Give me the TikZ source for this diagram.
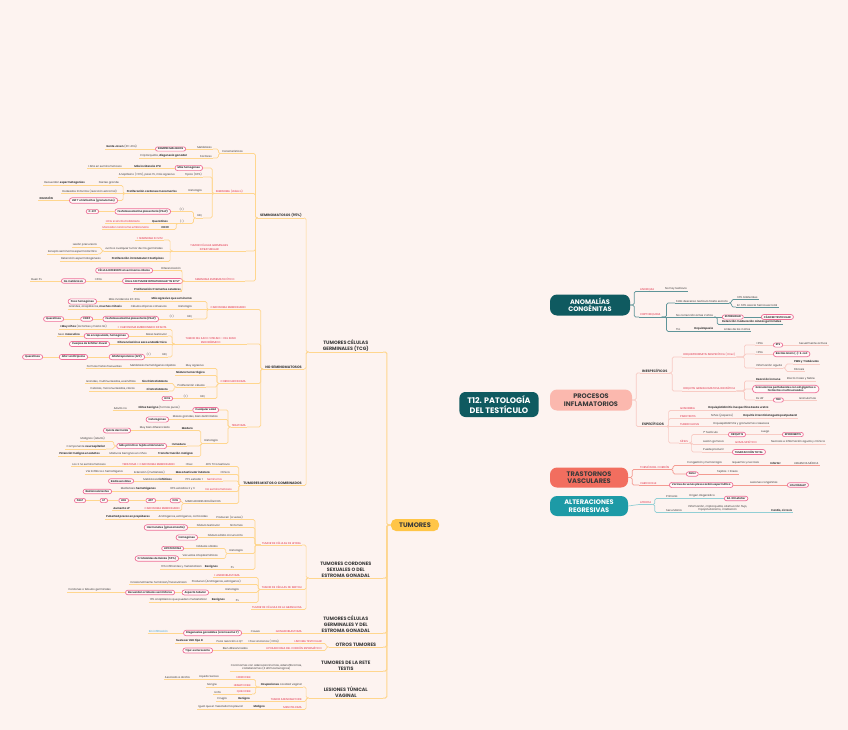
\documentclass[tikz,border=0pt]{standalone}
\usepackage{fontspec}
\setmainfont{Poppins}
\usetikzlibrary{shapes.misc,calc}
\pgfdeclarelayer{back}
\pgfsetlayers{back,main}
\definecolor{bg}{HTML}{FDF3F0}
\definecolor{txt}{HTML}{3A3A3A}
\definecolor{redc}{HTML}{E02B45}
\definecolor{pinkb}{HTML}{EE6F97}
\definecolor{pillf}{HTML}{FFF9F9}
\definecolor{ylw}{HTML}{FFD68E}
\definecolor{tumc}{HTML}{FFC547}
\definecolor{tealdk}{HTML}{0F5A60}
\definecolor{teall}{HTML}{5F9599}
\definecolor{procc}{HTML}{FBB8AE}
\definecolor{procl}{HTML}{F8CBC4}
\definecolor{trasc}{HTML}{F26E5F}
\definecolor{trasl}{HTML}{F49B91}
\definecolor{altc}{HTML}{1D9AA6}
\definecolor{altl}{HTML}{92CFD5}
\definecolor{bluet}{HTML}{3CA4D8}
\colorlet{lc}{ylw}
\tikzset{
 tx/.style={font=\fontsize{2.7}{3.2}\selectfont, text=txt, inner xsep=1pt, inner ysep=0.7pt},
 rd/.style={text=redc},
 bd/.style={font=\fontsize{2.7}{3.2}\selectfont\bfseries},
 ml/.style={align=center},
 pill/.style={rounded rectangle, draw=pinkb, line width=0.7pt, fill=pillf, text=txt, font=\fontsize{2.6}{3.1}\selectfont\bfseries, inner xsep=2.2pt, inner ysep=1.2pt},
 ul/.style={draw=lc, line width=0.7pt},
 ln/.style={draw=lc, line width=0.7pt, rounded corners=1.5pt},
 l2/.style={font=\fontsize{4.8}{5.6}\selectfont\bfseries, align=center, minimum width=74pt, inner xsep=0pt},
 l3/.style={font=\fontsize{3.4}{4}\selectfont\bfseries, inner xsep=2pt},
 bbox/.style={minimum width=80pt, minimum height=21pt, rounded corners=7pt, font=\fontsize{6.6}{7.6}\selectfont\bfseries, align=center, inner sep=0pt},
}
\newcommand\TL[4][]{\node[tx,anchor=south east,#1] (#2) at (#3) {#4};
  \draw[ul] (#2.south west) -- (#2.south east);
  \coordinate (#2-l) at (#2.south west); \coordinate (#2-r) at (#2.south east);}
\newcommand\TR[4][]{\node[tx,anchor=south west,#1] (#2) at (#3) {#4};
  \draw[ul] (#2.south west) -- (#2.south east);
  \coordinate (#2-l) at (#2.south west); \coordinate (#2-r) at (#2.south east);}
\newcommand\PL[4][]{\node[pill,anchor=east,#1] (#2) at (#3) {#4};
  \coordinate (#2-l) at (#2.west); \coordinate (#2-r) at (#2.east);}
\newcommand\PR[4][]{\node[pill,anchor=west,#1] (#2) at (#3) {#4};
  \coordinate (#2-l) at (#2.west); \coordinate (#2-r) at (#2.east);}
\newcommand\CL[3][2.5]{\draw[ln] (#2-l) -- ++(-#1,0) |- (#3-r);}
\newcommand\SL[2]{\draw[ln] (#1-l) -- (#2-r);}
\newcommand\CR[3][2.5]{\draw[ln] (#2-r) -- ++(#1,0) |- (#3-l);}
\newcommand\SR[2]{\draw[ln] (#1-r) -- (#2-l);}
\begin{document}
\begin{tikzpicture}[x=1pt,y=-1pt]
\fill[bg] (0,0) rectangle (848,730);
\useasboundingbox (0,0) rectangle (848,730);

% ---------- central and main branches
\node[fill=tealdk,text=white,rounded corners=6pt,font=\fontsize{8}{9.4}\selectfont\bfseries,align=center,minimum height=25pt,inner xsep=8pt] (cen) at (499,404.5) {T12. PATOLOGÍA\\DEL TESTÍCULO};
\node[bbox,fill=tealdk,text=white] (anom) at (590,305) {ANOMALÍAS\\CONGÉNITAS};
\node[bbox,fill=procc,text=txt,minimum width=82pt] (proc) at (591,400) {PROCESOS\\INFLAMATORIOS};
\node[bbox,fill=trasc,text=txt,minimum width=78pt,minimum height=20pt] (tras) at (589,477.5) {TRASTORNOS\\VASCULARES};
\node[bbox,fill=altc,text=white,minimum width=78pt,minimum height=20pt] (alt) at (589,506) {ALTERACIONES\\REGRESIVAS};
\node[fill=tumc,text=txt,rounded corners=5pt,font=\fontsize{6.6}{7.6}\selectfont\bfseries,minimum width=48pt,minimum height=12pt,inner sep=0pt] (tum) at (415,525) {TUMORES};
\begin{pgfonlayer}{back}
\draw[tumc,line width=1.1pt] (tum.east) .. controls +(22,0) and +(0,50) .. ($(cen.south west)+(8,0)$);
\draw[tealdk,line width=1.1pt] (cen.center) .. controls (536,404) and (536,305) .. (anom.west);
\draw[procc,line width=1.1pt] (cen.center) -- (proc.west);
\draw[trasc,line width=1.1pt] (cen.center) .. controls (536,404) and (536,477.5) .. (tras.west);
\draw[altc,line width=1.1pt] (cen.center) .. controls (536,404) and (536,506) .. (alt.west);
\end{pgfonlayer}

% ---------- TUMORES
\colorlet{lc}{ylw}
\TL[l2]{tcg}{383,352}{TUMORES CÉLULAS\\GERMINALES (TCG)}
\TL[l2]{cord}{383,578}{TUMORES CORDONES\\SEXUALES O DEL\\ESTROMA GONADAL}
\TL[l2]{cgest}{383,633}{TUMORES CÉLULAS\\GERMINALES  Y DEL\\ESTROMA GONADAL}
\TL[l2,minimum width=54pt]{otros}{383,647}{OTROS TUMORES}
\TL[l2]{rete}{383,671}{TUMORES DE LA RETE\\TESTIS}
\TL[l2]{lesion}{383,698}{LESIONES TÚNICAL\\VAGINAL}
\foreach \c in {tcg,cord,cgest,otros,rete,lesion}{\draw[ln,line width=1pt] (tum.west) -- ++(-4,0) |- (\c-r);}

\TL[l3]{semi}{304,218}{SEMINOMATOSOS (95\%)}
\TL[l3]{nosemi}{304,369}{NO SEMINOMATOSOS}
\TL[l3]{mixtos}{304,485.5}{TUMORES MIXTOS O COMBINADOS}
\CL{tcg}{semi}\CL{tcg}{nosemi}\CL{tcg}{mixtos}

% seminomatosos
\TL{car}{244,153.5}{Características}
\TL{met}{213,149}{Metástasis}
\PL{siem}{186,149}{SIEMPRE MALIGNOS}
\TL{gente}{138,149}{\textbf{Gente Joven} (30-40a)}
\TL{fac}{213,158}{Factores}
\TL{crip}{188,158}{Criptorquidia, \textbf{disgenesia gonadal}}
\CL{semi}{car}\CL{car}{met}\SL{met}{siem}\SL{siem}{gente}\CL{car}{fac}\SL{fac}{crip}

\TL[rd]{semc}{244,193.5}{SEMINOMA (clásico)}
\PL{mh}{203,168}{Más homogéneo}
\TL[bd]{mi}{162,168}{Más incidencia 4ªd}
\TL{alta}{123,168}{+Alta en seminomatosos}
\TL{tip}{203,177}{Típico (90\%)}
\TL{ana}{176,177}{Anaplásico (<10\%), pasa 1\%, más agresivo}
\TL{h1}{203,193.5}{Histología}
\TL[bd]{pcm}{178,193.5}{Proliferación cordones monomorfos}
\TL{ng}{120,185.5}{Núcleo grande}
\TL{rec}{86,185.5}{Recuerdan \textbf{espermatogonias}}
\TL{rod}{118,193.5}{Rodeados linfocitos (reacción estromal)}
\PL{lnf}{118,200.5}{LNF T e histiocitos (granulomas)}
\TL[bd]{dels}{54,200.5}{DELUSIÓN}
\TL{ihqa}{203,218}{IHQ}
\TL{pa}{185,211.5}{(+)}
\PL{palpa}{171,211.5}{Fosfatasa alcalina placentaria (PALP)}
\PL{ckit}{99,211.5}{C-KIT}
\TL{na}{185,223.5}{(-)}
\TL[bd]{kera}{169,223.5}{Queratinas}
\TL[rd]{bhcg}{141,223.5}{HCG si sincitiotrofoblasto}
\TL[bd]{cda}{170,229.5}{CD30}
\TL[rd]{mce}{150,229.5}{Marcador carcinoma embrionario}
\CL{semi}{semc}\CL{semc}{mh}\SL{mh}{mi}\SL{mi}{alta}\CL{semc}{tip}\SL{tip}{ana}
\SL{semc}{h1}\SL{h1}{pcm}\CL{pcm}{ng}\SL{ng}{rec}\SL{pcm}{rod}\CL{pcm}{lnf}\SL{lnf}{dels}
\CL{semc}{ihqa}\CL{ihqa}{pa}\SL{pa}{palpa}\SL{palpa}{ckit}\CL{ihqa}{na}\SL{na}{kera}\SL{kera}{bhcg}\CL{na}{cda}\SL{cda}{mce}

\TL[rd,ml,minimum width=73pt]{itub}{246,251}{TUMOR CÉLULAS GERMINALES\\INTRATUBULAR}
\TL[rd]{insitu}{164,240}{+ SEMINOMA IN SITU}
\TL{junto}{164,251}{Junto a cualquier tumor de CG germinales}
\TL{lesp}{98,247.5}{Lesión precursora}
\TL{exc}{98,254}{Excepto seminoma espermatocítico}
\TL[bd]{pia}{165,261.5}{Proliferación intratubular CG atípicas}
\TL{dete}{102,261.5}{Detención espermatogénesis}
\CL{semi}{itub}\CL{itub}{insitu}\SL{itub}{junto}\CL{junto}{lesp}\CL{junto}{exc}\CL{itub}{pia}\SL{pia}{dete}

\TL[rd,minimum width=60pt]{espc}{245,281}{SEMINOMA ESPERMATOCÍTICO}
\TL{difc}{182,270.5}{Diferenciación}
\PL{celd}{153,270.5}{CÉLULA DIFERENTE al seminoma clásico}
\PL{unico}{183,281}{Único SIN TUMOR INTRATUBULAR “IN SITU”}
\TL{edad}{103,281}{+60a}
\PL{nomet}{86,281}{No metástasis}
\TL{buen}{43,281}{Buen Px}
\TL[bd]{p3t}{182,291}{Proliferación 3 tamaños celulares}
\CL{semi}{espc}\CL{espc}{difc}\SL{difc}{celd}\SL{espc}{unico}\SL{unico}{edad}\SL{edad}{nomet}\SL{nomet}{buen}\CL{espc}{p3t}

% no seminomatosos
\TL[rd]{ce}{247,309.5}{CARCINOMA EMBRIONARIO}
\TL[bd]{agr}{193,301.5}{Más agresivo que seminoma}
\TL{mi2}{141,301.5}{Más incidencia 20-30a}
\PL{pocoh}{97,301.5}{Poco homogéneo}
\TL{h2}{193,309.5}{Histología}
\TL{cac}{168,309.5}{Células atípicas cohesivas}
\TL{gam}{123,309.5}{Grandes, anaplásicas, \textbf{muchas mitosis}}
\TL{ihqb}{193,319}{IHQ}
\TL{pb}{175,319}{(+)}
\PL{palpb}{159,319}{Fosfatasa alcalina placentaria (PALP)}
\PL{cdb}{93,319}{CD30}
\PL{kerb}{64,319}{Queratinas}
\CL{nosemi}{ce}\CL{ce}{agr}\SL{agr}{mi2}\SL{mi2}{pocoh}\SL{ce}{h2}\SL{h2}{cac}\SL{cac}{gam}
\CL{ce}{ihqb}\SL{ihqb}{pb}\SL{pb}{palpb}\SL{palpb}{cdb}\SL{cdb}{kerb}

\TL[rd,ml,minimum width=72pt]{sv}{247,344}{TUMOR DEL SACO VITELINO – DEL SENO\\ENDODÉRMICO}
\TL[rd]{infc}{168,329.5}{+ CARCINOMA EMBRIONARIO INFANTIL}
\TL{mny}{108,329.5}{\textbf{+Muy niños} (lactantes y hasta 3a)}
\TL{masa}{168,336}{Masa testicular}
\PL{noenc}{129,336}{No encapsulado, homogéneo}
\TL{sexo}{81,336}{Sexo \textbf{masculino}}
\TL[bd]{difs}{168,344}{Diferenciación a saco endodérmico}
\PL{schi}{110,344}{Cuerpos de Schiller-Duval}
\TL{ihqc}{168,357}{IHQ}
\TL{pc}{152,357}{(+)}
\PL{afp}{145,357}{Alfafetoproteína (AFP)}
\PL{a1a}{88,357}{Alfa 1 antitripsina}
\PL{kerc}{43,357}{Queratinas}
\CL{nosemi}{sv}\CL{sv}{infc}\SL{infc}{mny}\CL{sv}{masa}\SL{masa}{noenc}\SL{noenc}{sexo}
\SL{sv}{difs}\SL{difs}{schi}\CL{sv}{ihqc}\SL{ihqc}{pc}\SL{pc}{afp}\SL{afp}{a1a}\SL{a1a}{kerc}

\TL[rd]{corio}{247,383.5}{CORIOCARCINOMA}
\TL{magr}{205,368.5}{Muy agresivo}
\TL{mhr}{177,368.5}{Metástasis hematógenas rápidas}
\TL{fmf}{123,368.5}{Formas mixtas frecuentes}
\TL[bd]{nodh}{206,375.5}{Nódulo hemorrágico}
\TL{prc}{206,387}{Proliferación células}
\TL[bd]{sinc}{169,383.5}{Sincitiotrofoblasto}
\TL{gme}{137,383.5}{Grandes, multinucleadas, eosinófilas}
\TL[bd]{cito}{169,391}{Citotrofoblasto}
\TL{cmc}{136,391}{Cúbicas, mononucleadas, claras}
\TL{ihqd}{206,398.5}{IHQ}
\TL{pd}{189,398.5}{(+)}
\PL{hcga}{173,398.5}{HCG}
\CL{nosemi}{corio}\CL{corio}{magr}\SL{magr}{mhr}\SL{mhr}{fmf}\CL{corio}{nodh}\CL{corio}{prc}
\CL{prc}{sinc}\SL{sinc}{gme}\CL{prc}{cito}\SL{cito}{cmc}\CL{corio}{ihqd}\SL{ihqd}{pd}\SL{pd}{hcga}

\TL[rd]{ter}{247,427}{TERATOMA}
\PL{cualq}{219,410}{Cualquier edad}
\TL{nben}{181,410}{\textbf{Niños benigno} (formas puras)}
\TL{adno}{128,410}{Adulto no}
\TL{masg}{219,419.5}{Masas grandes, bien delimitadas}
\PL{heter}{169,419.5}{Heterogéneo}
\TL{h3}{219,443.5}{Histología}
\TL[bd]{mad}{194,430.5}{Maduro}
\TL{mbd}{171,430.5}{Muy bien diferenciado}
\PL{qder}{131,430.5}{Quiste dermoide}
\TL[bd]{inm}{187,446}{Inmaduro}
\PL{mpri}{167,446}{Más primitivo: tejido embrionario}
\TL{malad}{106,441.5}{Malignos (adulto)}
\TL{compn}{106,449}{Componente \textbf{neuroepitelial}}
\TL[bd]{trm}{194,456.5}{Transformación maligna}
\TL{mbn}{148,456.5}{Maduros benignos en niños}
\TL[bd]{pma}{101,456.5}{Potencial maligno en adultos}
\CL{nosemi}{ter}\CL{ter}{cualq}\SL{cualq}{nben}\SL{nben}{adno}\CL{ter}{masg}\SL{masg}{heter}
\CL{ter}{h3}\CL{h3}{mad}\SL{mad}{mbd}\SL{mbd}{qder}\CL{h3}{inm}\SL{inm}{mpri}\CL{mpri}{malad}\CL{mpri}{compn}
\CL{h3}{trm}\SL{trm}{mbn}\SL{mbn}{pma}

% mixtos
\TL{f40}{231,466.5}{40\% TCG testículo}
\TL{frec}{194,466.5}{+Frec}
\TL[rd]{tce}{176,466.5}{TERATOMA + CARCINOMA EMBRIONARIO}
\TL{los2}{107,466.5}{Los 2 no seminomatosos}
\TL{clin}{231,474.5}{Clínica}
\TL[bd]{mti}{211,474.5}{Masa testicular indolora}
\TL{extm}{166,474.5}{Extensión (metástasis)}
\TL{vlh}{124,474.5}{Vía linfática o hematógena}
\TL[rd]{sem2}{223,481}{Seminoma}
\TL{e70}{204,481}{70\% estadio 1}
\TL{mlin}{173,481}{Metástasis \textbf{linfáticas}}
\PL{rsen}{134,481}{Radiosensibles}
\TL[rd]{nsem2}{233,491.5}{No seminomatosos}
\TL{e60}{196,491.5}{60\% estadios 2 y 3}
\TL{mhem}{157,491.5}{Metástasis \textbf{hematógenas}}
\PL{rres}{112,491.5}{Radiorresistentes}
\TL{marc}{222,503.5}{MARCADORES BIOLÓGICOS}
\PL{hcgb}{181,500.5}{hCG}
\PL{afpb}{156,500.5}{AFP}
\PL{ldh}{129,500.5}{LDH}
\PL{lp}{108,500.5}{LP}
\PL{palpc}{86,500.5}{PALP}
\TL[rd]{ce2}{181,510.5}{CARCINOMA EMBRIONARIO}
\TL[bd]{aum}{131,510.5}{Aumento LP}
\CL{mixtos}{f40}\SL{f40}{frec}\SL{frec}{tce}\SL{tce}{los2}
\CL{mixtos}{clin}\SL{clin}{mti}\SL{mti}{extm}\SL{extm}{vlh}
\CL{mixtos}{sem2}\SL{sem2}{e70}\SL{e70}{mlin}\SL{mlin}{rsen}
\CL{mixtos}{nsem2}\SL{nsem2}{e60}\SL{e60}{mhem}\SL{mhem}{rres}
\CL{mixtos}{marc}\CL{marc}{hcgb}\SL{hcgb}{afpb}\SL{afpb}{ldh}\SL{ldh}{lp}\SL{lp}{palpc}\CL{marc}{ce2}\SL{ce2}{aum}

% cordones sexuales
\TL[rd]{ley}{302,545}{TUMOR DE CÉLULAS DE LEYDIG}
\TL{prod}{244,519.5}{Producen (a veces)}
\TL{aec}{209,519.5}{Andrógenos, estrógenos, corticoides}
\TL[bd]{pubp}{151,519.5}{Pubertad precoz en prepúberes}
\TL{sint}{244,527.5}{Síntomas}
\TL{ntes}{221,527.5}{Nódulo testicular}
\PL{horm}{188,527.5}{Hormonales (ginecomastia)}
\TL{nsc}{244,537.5}{Nódulo sólido circunscrito}
\PL{homo}{198,537.5}{Homogéneo}
\TL{h4}{244,553.5}{Histología}
\TL{nsol}{219,548.5}{Nódulos sólidos}
\PL{lipf}{184,548.5}{LIPOFUSCINA}
\TL{vac}{219,558.5}{Vacuolas citoplasmáticas}
\PL{rein}{179,558.5}{Cristaloides de Reinke (50\%)}
\TL{pxa}{235,569.5}{Px}
\TL[bd]{bena}{219,569.5}{Benignos}
\TL{inf10}{203,569.5}{10\% infiltrantes y metastatizan}
\CL{cord}{ley}\CL[6]{ley}{prod}\SL{prod}{aec}\SL{aec}{pubp}\CL[6]{ley}{sint}\SL{sint}{ntes}\SL{ntes}{horm}
\CL[6]{ley}{nsc}\SL{nsc}{homo}\CL[6]{ley}{h4}\CL{h4}{nsol}\SL{nsol}{lipf}\CL{h4}{vac}\SL{vac}{rein}
\CL[6]{ley}{pxa}\SL{pxa}{bena}\SL{bena}{inf10}

\TL[rd]{sert}{303,589.5}{TUMOR DE CÉLULAS DE SERTOLI}
\TL[rd]{andr}{241,577.5}{+ ANDROBLASTOMA}
\TL{prod2}{242,584.5}{Producen (Andrógenos, estrógenos)}
\TL{ocas}{188,584.5}{Ocasionalmente: feminizan/masculinizan}
\TL{h5}{240,592.5}{Histología}
\PL{asp}{209,592.5}{Aspecto tubular}
\PL{rtub}{175,592.5}{Recuerdan a \textbf{túbulos seminíferos}}
\TL{ctg}{112,592.5}{Cordones o túbulos germinales}
\TL{pxb}{240,602.5}{Px}
\TL[bd]{benb}{226,602.5}{Benignos}
\TL{ana10}{208,602.5}{10\% anaplásicos que pueden metastatizar}
\CL{cord}{sert}\CL{sert}{andr}\CL{sert}{prod2}\SL{prod2}{ocas}\CL{sert}{h5}\SL{h5}{asp}\SL{asp}{rtub}\SL{rtub}{ctg}
\CL{sert}{pxb}\SL{pxb}{benb}\SL{benb}{ana10}
\TL[rd]{granu}{303,609.5}{TUMOR DE CÉLULAS DE LA GRANULOSA}
\CL{cord}{granu}

% germinales y estroma
\TL[rd]{gonad}{303,633}{GONADOBLASTOMA}
\TL{causa}{261,633}{Causa}
\PL{disg}{242,633}{Disgenesias gonadales (cromosoma Y)}
\TL[text=bluet]{sinf}{169,633}{Sin infiltración}
\SL{cgest}{gonad}\SL{gonad}{causa}\SL{causa}{disg}\SL{disg}{sinf}

% otros
\TL[rd]{linf}{323,643.5}{LINFOMA TESTICULAR}
\TL{anc}{280,643.5}{+Frec ancianos (>60a)}
\TL{poca}{244,643.5}{Poca reacción a QT}
\TL[bd]{lnh}{204,643.5}{Suele ser LNH tipo B}
\TL[rd]{lipo}{323,650.5}{LIPOSARCOMA DEL CORDÓN ESPERMÁTICO}
\TL{biend}{249,650.5}{Bien diferenciados}
\PL{escl}{213,650.5}{Tipo: esclerosante}
\CL{otros}{linf}\SL{linf}{anc}\SL{anc}{poca}\SL{poca}{lnh}\CL{otros}{lipo}\SL{lipo}{biend}\SL{biend}{escl}

% rete testis
\TL[ml]{carc}{303,671}{Carcinomas con adenocarcinomas, adenofibromas,\\cistadenomas (3 últimos benignos)}
\SL{rete}{carc}

% lesiones tunica vaginal
\TL{ocu}{303,687}{\textbf{Ocupaciones} cavidad vaginal}
\TL[rd]{hidro}{252,679.5}{HIDROCELE}
\TL{lser}{220,679.5}{Líquido Seroso}
\TL{asat}{191,679.5}{Asociado a atrofia}
\TL[rd]{hemat}{252,687}{HEMATOCELE}
\TL{sang}{218,687}{Sangre}
\TL[rd]{quilo}{252,694}{QUILOCELE}
\TL{linfa}{222,694}{Linfa}
\TL[rd]{adeno}{303,701.5}{TUMOR ADENOMATOIDE}
\TL[bd]{beng}{251,701.5}{Benigno}
\TL{ciru}{228,701.5}{Cirugía}
\TL[rd]{meso}{303,709.5}{MESOTELIOMA}
\TL[bd]{malg}{266,709.5}{Maligno}
\TL{igual}{244,709.5}{Igual que el mesotelioma pleural}
\CL{lesion}{ocu}\CL[4]{ocu}{hidro}\SL{hidro}{lser}\SL{lser}{asat}\SL{ocu}{hemat}\SL{hemat}{sang}\CL[4]{ocu}{quilo}\SL{quilo}{linfa}
\CL{lesion}{adeno}\SL{adeno}{beng}\SL{beng}{ciru}\CL{lesion}{meso}\SL{meso}{malg}\SL{malg}{igual}

% ---------- ANOMALIAS
\colorlet{lc}{teall}
\TR[rd]{anorq}{639,291.5}{ANORQUIA}
\TR{nohay}{664,291.5}{No hay testículo}
\TR[rd]{cript}{639,317}{CRIPTORQUIDIA}
\TR{falla}{675,303}{Falla descenso testículo hasta escroto}
\TR{bil}{736,299.5}{30\% bilaterales}
\TR{hern}{736,307}{En 60\% asocia hernia escrotal}
\TR{nocor}{675,317}{No corrección antes 2 años}
\PR{ester}{722,317}{ESTERILIDAD}
\PR{canc}{761,317}{CÁNCER TESTICULAR}
\TR[bd]{deten}{721,324.5}{Detención maduración células germinales}
\TR{tto}{675,331.5}{Tto}
\TR[bd]{orqx}{693,331.5}{Orquidopexia}
\TR{antes}{723,331.5}{Antes de los 2 años}
\draw[ln] (anom.east) -- ++(4,0) |- (anorq-l);
\draw[ln] (anom.east) -- ++(4,0) |- (cript-l);
\SR{anorq}{nohay}\CR[5]{cript}{falla}\CR{falla}{bil}\CR{falla}{hern}\SR{cript}{nocor}\SR{nocor}{ester}\SR{ester}{canc}
\CR[3]{nocor}{deten}\CR[5]{cript}{tto}\SR{tto}{orqx}\SR{orqx}{antes}

% ---------- PROCESOS
\colorlet{lc}{procl}
\TR[l3]{inesp}{640,373}{INESPECÍFICOS}
\TR[rd]{oie}{682,357}{ORQUIEPIDIDIMITIS INESPECÍFICA (+frec)}
\TR{lt35}{755,345}{<35a}
\PR{ets}{773,345}{ETS}
\TR{sexa}{798,345}{Sexualmente activos}
\TR{gt35}{755,354}{>35a}
\PR{bac}{773,354}{Bacilos Gram (-): E. coli}
\TR{infa}{755,368}{Inflamación aguda}
\TR[bd]{pmn}{793,364}{PMN y Trabéculas}
\TR{fib}{793,371.5}{Fibrosis}
\TR[rd]{ogi}{682,391}{ORQUITIS GRANULOMATOSA IDIOPÁTICA}
\TR[bd]{reac}{755,381}{Reacción inmune}
\TR{efm}{786,381}{Efecto masa y fiebre}
\PR[align=center]{grn}{752,389}{Granulomas perituberales con cél gigantes o\\histiocitos multinucleados}
\TR{dxd}{755,400}{Dx dif}
\PR{tbca}{773,400}{TBC}
\TR{grs}{798,400}{Granulomas}
\draw[ln] (proc.east) -- ++(4,0) |- (inesp-l);
\CR{inesp}{oie}\CR{inesp}{ogi}\CR[8]{oie}{lt35}\SR{lt35}{ets}\SR{ets}{sexa}\CR[8]{oie}{gt35}\SR{gt35}{bac}
\CR[8]{oie}{infa}\CR{infa}{pmn}\CR{infa}{fib}\CR[8]{ogi}{reac}\SR{reac}{efm}\CR[8]{ogi}{grn}\CR[8]{ogi}{dxd}\SR{dxd}{tbca}\SR{tbca}{grs}

\TR[l3]{esp}{640,426.5}{ESPECÍFICOS}
\TR[rd]{gon}{679,410.5}{GONORREA}
\TR[bd]{gonx}{707,410.5}{Orquiepididimitis inespecífica desde uretra}
\TR[rd]{paro}{679,418.5}{PAROTIDITIS}
\TR{parox}{710,418.5}{Niños (paperas)}
\TR[bd]{paroy}{742,418.5}{Orquitis intersticial aguda postpuberal}
\TR[rd]{tbcb}{679,426.5}{TUBERCULOSIS}
\TR{tbcx}{712,426.5}{Orquiepididimitis y granulomas caseosos}
\TR[rd]{sif}{679,443}{SÍFILIS}
\TR{tst}{702,434.5}{1º Testículo}
\PR{orq}{728,434.5}{ORQUITIS}
\TR{luego}{760,434.5}{Luego}
\PR{epi}{782,434.5}{EPIDIDIMITIS}
\TR{lgom}{702,444.5}{Lesión gomosa}
\TR[rd]{goma}{734,444.5}{GOMA SIFILÍTICO}
\TR{necr}{770,444.5}{Necrosis e inflamación aguda y crónica}
\TR{pprod}{702,452}{Puede producir}
\PR{tumf}{732,452}{TUMEFACCIÓN TOTAL}
\draw[ln] (proc.east) -- ++(4,0) |- (esp-l);
\CR{esp}{gon}\SR{gon}{gonx}\CR{esp}{paro}\SR{paro}{parox}\SR{parox}{paroy}\SR{esp}{tbcb}\SR{tbcb}{tbcx}
\CR{esp}{sif}\CR{sif}{tst}\SR{tst}{orq}\SR{orq}{luego}\SR{luego}{epi}\CR{sif}{lgom}\SR{lgom}{goma}\SR{goma}{necr}\CR{sif}{pprod}\SR{pprod}{tumf}

% ---------- TRASTORNOS
\colorlet{lc}{trasl}
\TR[rd]{tors}{639,469.5}{TORSIÓN DEL CORDÓN}
\TR{cong}{686,465.5}{Congestión y hemorragia}
\TR{isq}{731,465.5}{Isquemia y necrosis}
\TR[bd]{infar}{769,465.5}{Infarto!}
\TR{urg}{793,465.5}{URGENCIA MÉDICA}
\PR{dol}{686,474}{Dolor}
\TR{tej}{716,474}{Tejidos + líneas}
\TR[rd]{vari}{639,485}{VARICOCELE}
\PR{varx}{669,485}{Varices de venas plexo cordón espermático}
\TR{lesc}{749,485}{Lesiones congénitas}
\PR{infer}{787,485}{Infertilidad?}
\draw[ln] (tras.east) -- ++(4,0) |- (tors-l);
\draw[ln] (tras.east) -- ++(4,0) |- (vari-l);
\CR{tors}{cong}\SR{cong}{isq}\SR{isq}{infar}\SR{infar}{urg}\CR{tors}{dol}\SR{dol}{tej}
\SR{vari}{varx}\SR{varx}{lesc}\SR{lesc}{infer}

% ---------- ALTERACIONES
\colorlet{lc}{altl}
\TR[rd]{atro}{639,504.5}{ATROFIA}
\TR{prim}{665,498.5}{Primaria}
\TR{orig}{688,498.5}{Origen disgenético}
\PR{kline}{724,498.5}{Sd. Klinefelter}
\TR{secu}{665,512.5}{Secundaria}
\TR[ml]{secx}{687,512.5}{Inflamación, criptorquidia, obstrucción flujo,\\hipopituitarismo, irradiación}
\TR[bd]{card}{770,512.5}{Cardio, cirrosis}
\draw[ln] (alt.east) -- (atro-l);
\CR{atro}{prim}\SR{prim}{orig}\SR{orig}{kline}\CR{atro}{secu}\SR{secu}{secx}\SR{secx}{card}
\end{tikzpicture}
\end{document}
